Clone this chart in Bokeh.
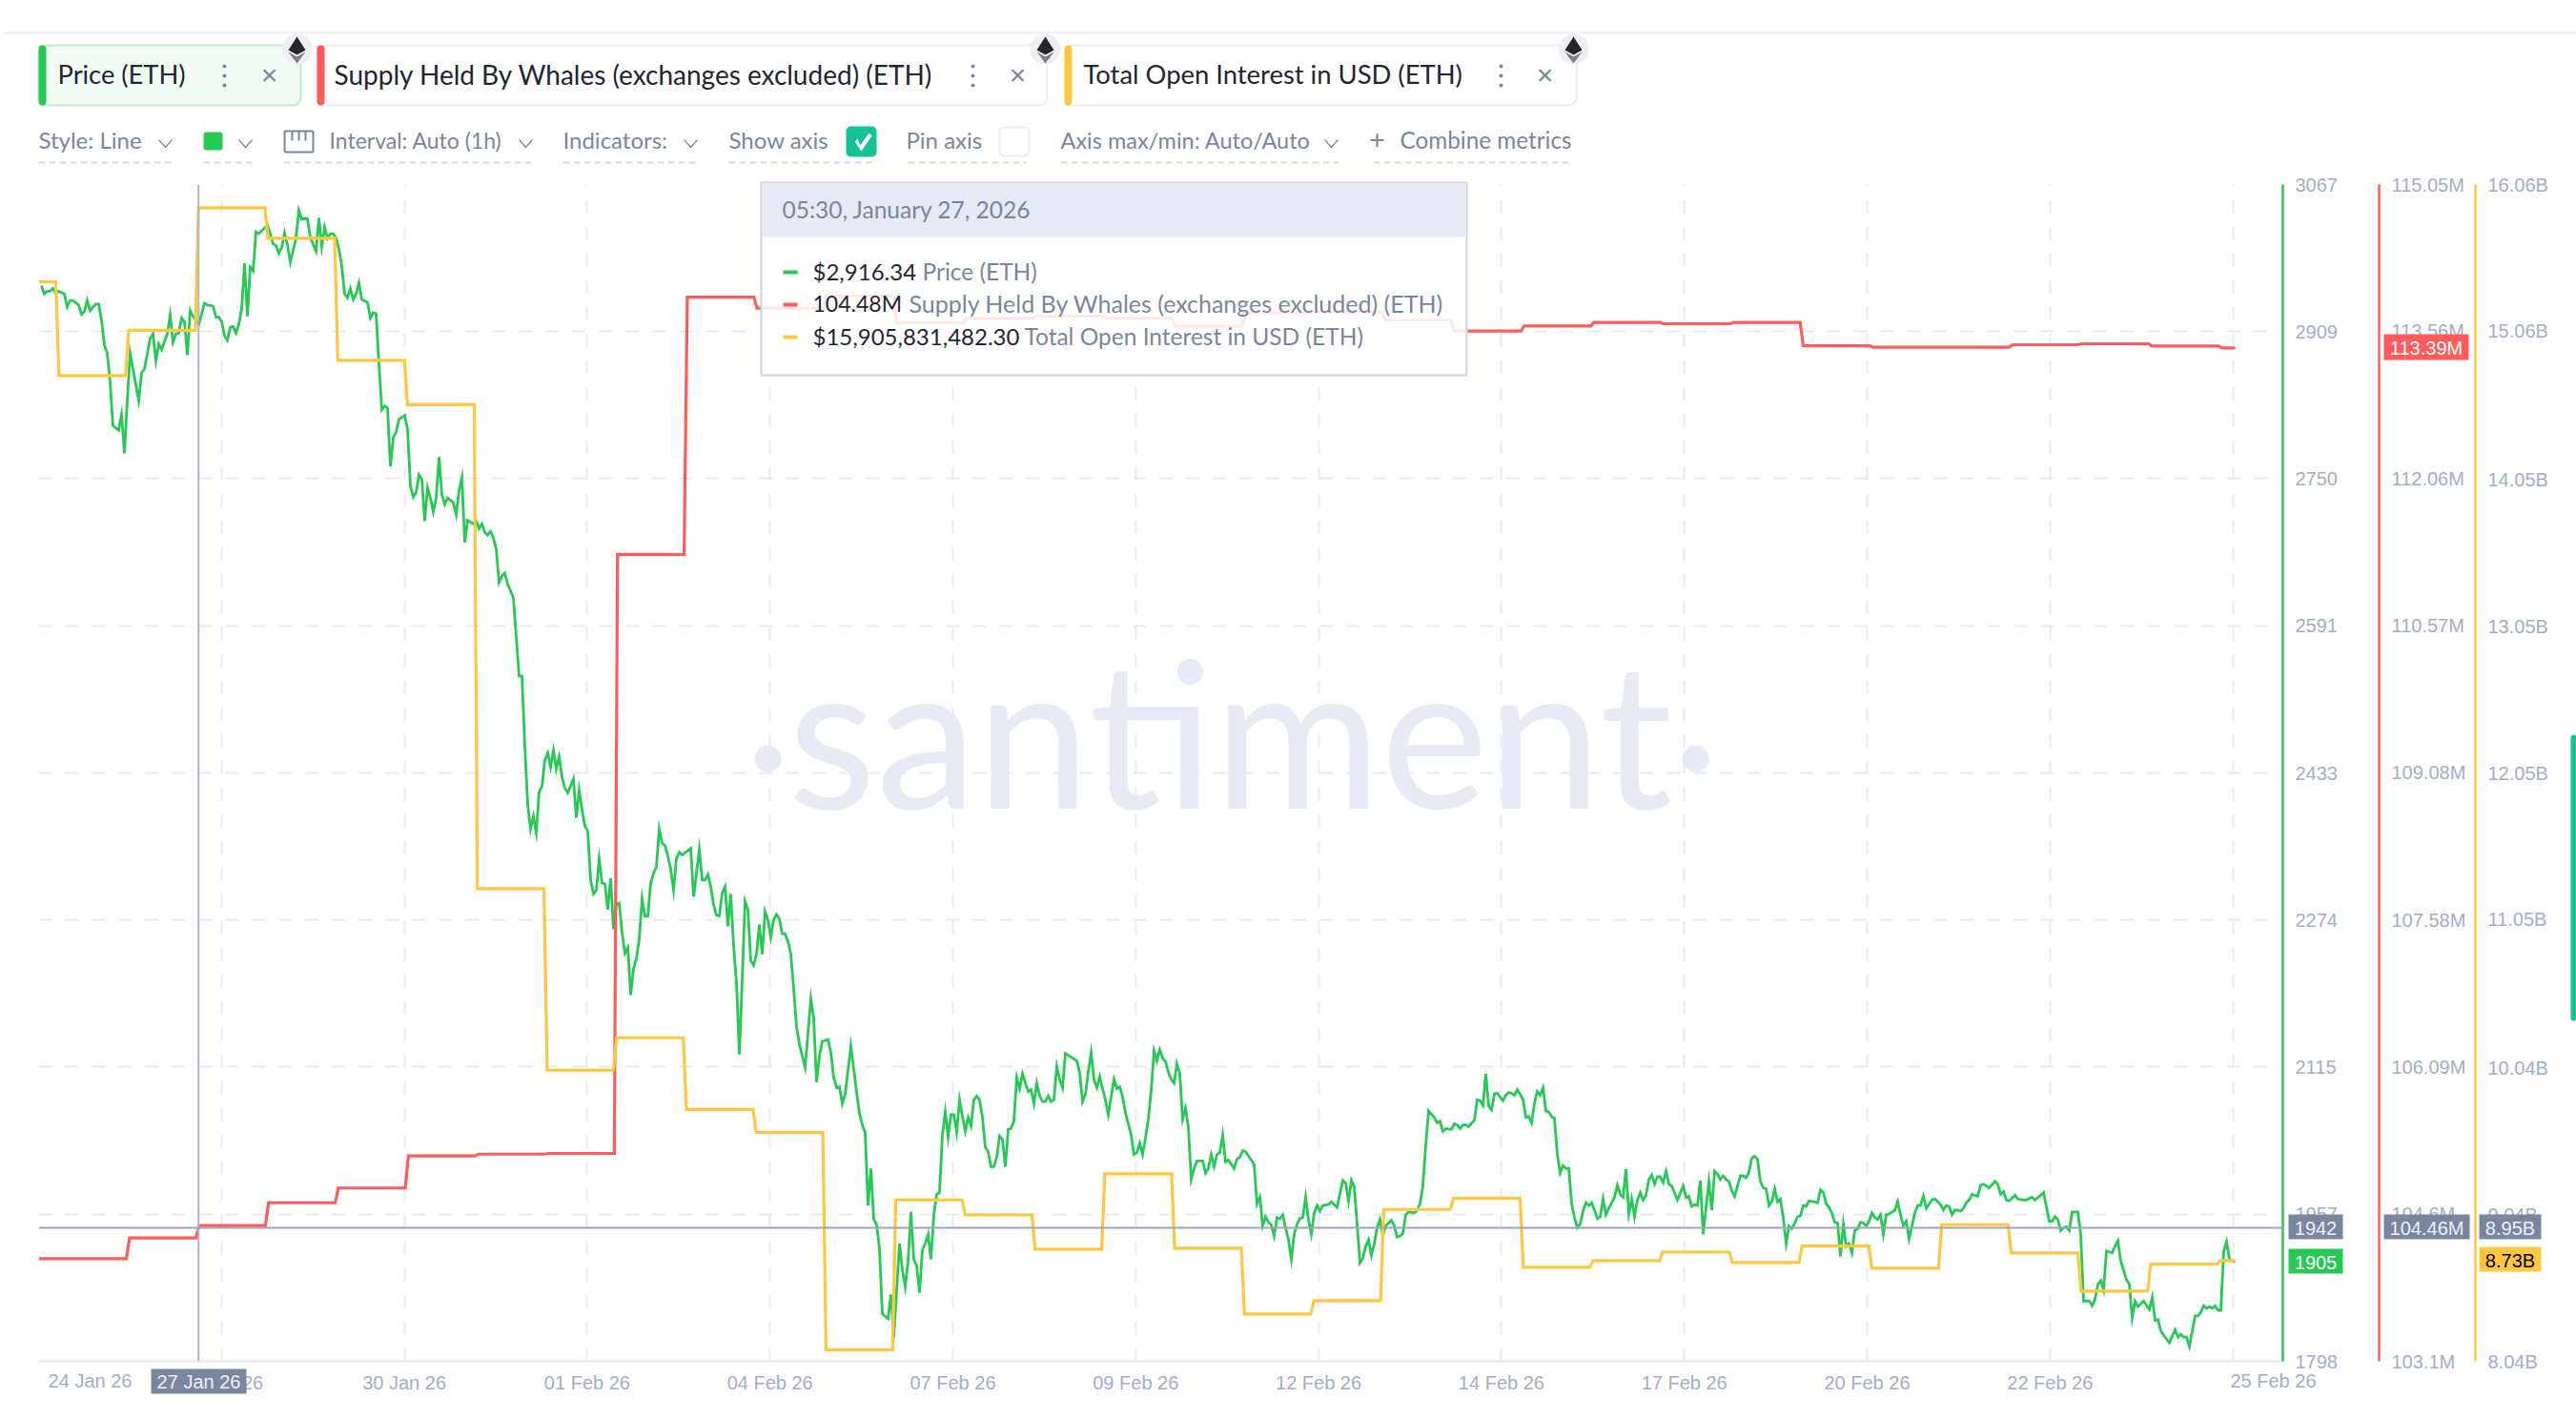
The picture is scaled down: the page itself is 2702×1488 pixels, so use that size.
from bokeh.plotting import figure
from bokeh.layouts import column
from bokeh.models import (Range1d, LinearAxis, FixedTicker, Label, BoxAnnotation, PolyAnnotation, Span)
from bokeh.embed import file_html
from bokeh.resources import INLINE

# ---------- data: (hour since start of window, USD) ----------
price_a = [(1,2958),(2,2949),(3,2952),(4,2952),(5,2955),(6,2950),(7,2952),(9,2949),(10,2935),(11,2942),(12,2942),(14,2937),(15,2927),(16,2930),(17,2942),(18,2931),(20,2938),(21,2938),(22,2921),(23,2894),(24,2885),(25,2854),(26,2807),(28,2802),(29,2819),(30,2777),(31,2834),(32,2885),(35,2834),(36,2864),(37,2868),(39,2901),(40,2906),(41,2877),(42,2895),(43,2889),(45,2906),(46,2926),(47,2897),(48,2906),(49,2907),(50,2923),(51,2919),(52,2883),(53,2931),(54,2925),(56,2916),(58,2939),(59,2937),(61,2936),(62,2924),(63,2924),(64,2919),(65,2904),(66,2899),(67,2913),(68,2914),(69,2907),(70,2916),(71,2933),(72,2982),(73,2925),(74,2978),(75,2974),(76,3016),(77,3014),(80,3023),(81,3014),(82,3003),(83,3001),(84,2993),(85,2999),(86,3015),(87,3002),(88,2983),(90,3009),(91,3039),(92,3030),(94,3030),(95,3010),(97,2995),(98,3031),(99,3000),(100,3021),(101,3009),(102,3014),(103,3014),(104,3009),(105,2997),(106,2979),(107,2949),(108,2945),(109,2955),(110,2943),(111,2949),(112,2961),(113,2943)]
price_b = [(115,2940),(116,2923),(117,2929),(118,2928),(119,2873),(120,2824),(121,2828),(122,2826),(123,2763),(124,2794),(125,2800),(126,2814),(128,2818),(129,2803),(130,2742),(131,2730),(132,2735),(133,2754),(134,2749),(135,2704),(136,2740),(137,2729),(138,2714),(139,2729),(140,2773),(141,2733),(142,2722),(143,2729),(145,2724),(146,2711),(147,2737),(148,2751),(149,2681),(150,2705),(152,2701),(153,2704),(154,2696),(155,2701),(156,2692),(157,2689),(158,2693),(159,2686),(160,2674),(161,2638),(162,2645),(163,2648),(164,2636),(165,2629),(166,2621),(168,2537),(169,2537),(170,2461),(171,2399)]
price_c = [(172,2372),(173,2386),(174,2368),(175,2412),(176,2418),(177,2446),(178,2454),(179,2439),(180,2457),(181,2437),(182,2450),(183,2428),(184,2416),(185,2411),(187,2426),(188,2384),(189,2414),(190,2393),(191,2375),(192,2370),(193,2317),(194,2302),(195,2306),(196,2340),(197,2314),(198,2313),(199,2285),(200,2319),(201,2264),(202,2291),(203,2292),(204,2260),(205,2238),(206,2244),(207,2193),(208,2221),(209,2232),(210,2253),(211,2297),(212,2278),(213,2278),(214,2314),(215,2324),(216,2331),(217,2372),(218,2357),(219,2354),(220,2343),(221,2329),(222,2306),(223,2340),(224,2347),(225,2344),(228,2351),(229,2299),(230,2324),(231,2350),(232,2317),(233,2317),(234,2323),(235,2310),(236,2290),(237,2279),(238,2278),(239,2303),(240,2310),(241,2267),(242,2302),(243,2246),(244,2207),(245,2129),(246,2209),(247,2294),(248,2285),(249,2230),(250,2225),(251,2237),(252,2269),(253,2237),(254,2283),(255,2274),(256,2255),(257,2274),(258,2280),(259,2275),(260,2259),(261,2259),(262,2251),(263,2237),(264,2200),(265,2159),(266,2140),(268,2115),(270,2189),(271,2168),(272,2099),(273,2127),(274,2143),(276,2145),(277,2131),(278,2104),(279,2093),(280,2094),(281,2076),(282,2086),(284,2138),(286,2088),(287,2065),(288,2053),(289,2044),(290,1966),(291,2006),(292,1951),(293,1945),(294,1920),(295,1849),(297,1844),(298,1870),(299,1823),(301,1925),(302,1897),(303,1878),(304,1906),(305,1959),(306,1908)]
price_d = [(307,1901),(308,1872),(309,1918),(310,1925),(311,1935),(312,1908),(313,1956),(314,1978),(315,1980),(316,2042),(317,2067),(318,2040),(319,2064),(320,2064),(321,2045),(322,2080),(323,2062),(324,2046),(325,2061),(326,2052),(327,2080),(328,2084),(329,2080),(330,2061),(331,2029),(332,2024),(333,2008),(334,2008),(335,2018),(336,2041),(337,2037),(338,2008),(339,2048),(340,2049),(341,2057),(342,2104),(343,2092),(344,2108),(345,2098),(346,2089),(347,2091),(348,2076),(349,2098),(350,2084),(351,2078),(352,2078),(353,2084),(354,2078),(355,2080),(356,2116),(357,2102),(358,2093),(359,2130),(361,2126),(363,2122),(364,2109),(365,2078),(366,2086),(367,2110),(368,2131),(369,2102),(370,2093),(371,2105),(372,2092),(373,2080),(374,2064),(376,2102),(377,2092),(378,2094),(379,2083),(380,2066),(382,2042),(383,2021),(384,2023),(385,2033),(386,2021),(387,2039),(388,2059),(389,2090),(390,2133),(391,2122),(392,2134),(393,2125),(394,2121),(395,2110),(396,2102),(397,2098),(398,2119),(399,2108),(400,2059),(401,2071),(402,2050),(403,1994),(404,2006),(405,2014),(407,2014),(408,2001),(409,2006),(410,2021),(411,2008),(412,2021),(413,2023),(414,2042),(415,2013),(416,2015),(418,2006),(419,2016),(420,2018),(421,2025),(422,2024),(424,2015),(425,2010),(426,1968),(427,1975),(428,1944),(429,1954),(430,1948),(431,1945),(432,1933),(433,1953),(434,1952),(435,1956),(436,1942),(437,1929),(438,1908),(439,1935),(440,1946),(441,1952),(442,1953),(443,1975),(444,1951),(445,1935),(446,1958),(447,1966),(448,1960),(449,1966),(451,1967),(452,1970),(453,1967),(454,1964)]
price_e = [(456,1993),(457,1990),(458,1971),(459,1993),(460,1986),(461,1946),(462,1904),(463,1909),(464,1922),(465,1929),(466,1912),(467,1925),(468,1942),(469,1951),(470,1934),(471,1944),(473,1950),(474,1944),(475,1932),(476,1933),(477,1936),(478,1956),(479,1959),(481,1958),(482,1961),(483,1968),(484,1987),(485,2031),(486,2068),(488,2061),(489,2055),(490,2057),(491,2046),(492,2049),(494,2048),(495,2054),(496,2053),(497,2049),(498,2053),(499,2053),(500,2051),(502,2058),(503,2080),(504,2079),(505,2074),(506,2108),(507,2073),(508,2069),(509,2086),(510,2087),(512,2079),(513,2085),(514,2088),(515,2087),(516,2085),(517,2091),(518,2086),(519,2080),(520,2061),(521,2062),(522,2055),(523,2076),(524,2089),(525,2085),(526,2093),(527,2068),(528,2067),(529,2062),(530,2060),(531,2021),(532,2001),(533,2009),(534,2006),(535,2006),(536,1968),(537,1953),(538,1942),(539,1946),(540,1960),(541,1969),(542,1966),(543,1969),(544,1961),(545,1952),(546,1954),(547,1973),(548,1956),(549,1963),(551,1975),(552,1988),(553,1978),(554,1975),(555,2005),(556,1957),(557,1973),(558,1954),(559,1972),(560,1980),(561,1972),(562,1977),(563,1994),(564,1999),(565,1989),(566,1997),(567,1997),(568,1991),(569,2003),(570,1989),(571,1987),(573,1972),(575,1987),(576,1975),(577,1976),(578,1965),(579,1967),(580,1966),(581,1993),(582,1935),(584,1992),(585,1961),(586,2003),(587,2000),(588,1994),(589,1998),(590,1994),(591,1992),(592,1982),(593,1976),(594,1987),(595,1998),(596,1998),(597,1996),(598,2002),(599,2017),(600,2019),(601,2016),(602,1992),(603,1985),(604,1984),(605,1966),(606,1970),(607,1984),(608,1970),(609,1973),(610,1953),(611,1925),(612,1944)]
price_f = [(613,1941),(614,1947),(615,1954),(616,1955),(617,1966),(618,1965),(619,1971),(621,1970),(622,1969),(623,1983),(624,1980),(625,1968),(626,1964),(627,1958),(628,1948),(629,1947),(630,1911),(631,1946),(632,1922),(633,1925),(634,1915),(635,1939),(636,1941),(637,1948),(638,1947),(639,1944),(640,1949),(641,1958),(642,1953),(643,1951),(644,1956),(645,1935),(646,1956),(647,1957),(649,1961),(650,1970),(651,1956),(652,1944),(653,1949),(654,1930),(655,1944),(656,1958),(657,1966),(658,1966),(659,1976),(660,1963),(662,1972),(663,1973),(664,1970),(665,1967),(666,1961),(667,1966),(668,1965),(669,1956),(670,1961),(671,1961),(672,1960),(673,1963),(674,1969),(675,1972),(676,1978),(678,1976),(679,1988),(680,1989),(682,1985),(684,1992),(685,1989),(686,1978),(687,1981),(688,1972),(689,1971),(691,1977),(692,1973),(694,1972),(695,1972),(697,1975),(698,1972),(700,1977),(701,1980),(703,1949),(704,1949),(705,1954),(706,1951),(707,1939),(708,1942),(709,1943),(710,1939),(711,1959),(713,1959),(714,1935),(715,1863),(717,1863),(718,1858),(719,1865),(720,1881),(721,1885),(722,1875),(723,1917),(725,1915),(726,1922),(727,1928),(728,1906),(730,1886),(731,1881),(732,1845),(733,1863),(734,1857),(736,1863),(738,1854),(739,1867),(740,1842),(741,1843),(742,1831),(743,1826),(745,1818),(747,1832),(748,1824),(749,1827),(750,1824),(751,1824),(752,1814),(754,1847),(755,1847),(756,1851),(757,1858),(758,1855),(759,1857),(760,1855),(761,1858),(762,1853),(763,1853),(764,1917),(765,1927),(766,1908),(768,1905)]

# daily series: hour at which each new daily value starts to take effect, and the values
oi_change_hours = [6,30.4,54.8,79.1,103.5,127.9,152.3,176.7,201,225.4,249.8,274.2,298.6,322.9,347.3,371.7,396.1,420.5,444.8,469.2,493.6,518,542.4,566.7,591.1,615.5,639.9,664.3,688.6,713,737.4,761.8]
oi_billion = [15.397,14.758,15.066,15.902,15.694,14.862,14.559,11.261,10.024,10.245,9.756,9.600,8.119,9.140,9.039,8.805,9.318,8.811,8.363,8.454,9.075,9.151,8.681,8.727,8.785,8.714,8.826,8.675,8.971,8.779,8.519,8.703,8.727]
whale_change_hours = [30.7,55,79.3,103.7,128.2,152.6,177,201.3,225.7,250.1,274.5,298.9,323.3,347.7,372,396.3,420.8,445.2,469.6,493.9,518.3,542.7,567,591.5,615.9,640.3,664.7,689,713,737.8,762.2]
whale_million = [104.143,104.352,104.478,104.710,104.860,105.185,105.204,105.211,111.293,113.907,113.794,113.917,113.646,113.691,113.714,113.694,113.610,113.743,113.755,113.675,113.562,113.614,113.649,113.636,113.649,113.413,113.398,113.398,113.423,113.433,113.410,113.391]
end_hour = 768

x_tick_hours = [0,63.93,127.87,191.8,255.73,319.67,383.6,447.53,511.47,575.4,639.33,703.27,767.2]
x_tick_labels = ["","27 Jan 26","30 Jan 26","01 Feb 26","04 Feb 26","07 Feb 26","09 Feb 26","12 Feb 26","14 Feb 26","17 Feb 26","20 Feb 26","22 Feb 26",""]
price_ticks = [1798,1956.6,2115.3,2273.9,2432.5,2591.1,2749.8,2908.4,3067]
price_tick_labels = ["1798","1957","2115","2274","2433","2591","2750","2909","3067"]
whale_ticks = [103.1,104.6,106.09,107.58,109.08,110.57,112.06,113.56,115.05]
whale_tick_labels = ["103.1M","104.6M","106.09M","107.58M","109.08M","110.57M","112.06M","113.56M","115.05M"]
oi_ticks = [8.04,9.04,10.04,11.05,12.05,13.05,14.05,15.06,16.06]
oi_tick_labels = ["8.04B","9.04B","10.04B","11.05B","12.05B","13.05B","14.05B","15.06B","16.06B"]
crosshair_hour = 55.9
crosshair_price = 1942

GREEN, RED, YELLOW = "#26c953", "#ff5b5b", "#ffc740"
GRID, AXIS_TEXT, UI_TEXT, DARK = "#e7eaf4", "#a4acc9", "#7a859e", "#1f2533"
TAG = "#7a869f"
UI_FONT, NUM_FONT = "Lato", "Liberation Sans"

def steps(change_hours, values, end):
    xs, ys = [0], [values[0]]
    for t, prev, nxt in zip(change_hours, values[:-1], values[1:]):
        xs += [t, t + 1.1]
        ys += [prev, nxt]
    xs.append(end); ys.append(values[-1])
    return xs, ys

p = figure(width=2702, height=1488, output_backend="svg", toolbar_location=None,
           x_range=Range1d(0, 784.67), y_range=Range1d(1798, 3067),
           y_axis_location="right", min_border_left=40, min_border_top=193,
           min_border_right=308, min_border_bottom=61, frame_align=False)
p.outline_line_color = None
p.background_fill_color = "white"
p.border_fill_color = "white"
p.extra_y_ranges = {"whale": Range1d(103.1, 115.05), "oi": Range1d(8.04, 16.06)}

# transparent sheet over the chart, for the page furniture round the plot frame
q = figure(width=2702, height=1488, output_backend="svg", toolbar_location=None,
           x_axis_type=None, y_axis_type=None, x_range=Range1d(0, 2702), y_range=Range1d(1488, 0),
           min_border=0, min_border_left=0, min_border_right=0, min_border_top=0, min_border_bottom=0,
           frame_align=False)
q.outline_line_color = None
q.background_fill_color = None
q.border_fill_color = None
q.grid.visible = False
q.margin = (-1488, 0, 0, 0)

def style_axis(ax, color, pad):
    ax.axis_line_color = color
    ax.axis_line_width = 2.5
    ax.major_tick_line_color = None
    ax.minor_tick_line_color = None
    ax.major_label_text_color = AXIS_TEXT
    ax.major_label_text_font = NUM_FONT
    ax.major_label_text_font_size = "20px"
    ax.major_label_standoff = 7
    ax.axis_label = " "
    ax.axis_label_text_alpha = 0
    ax.axis_label_text_font_size = "1px"
    ax.axis_label_standoff = pad

pa = p.yaxis[0]
pa.ticker = FixedTicker(ticks=price_ticks)
pa.major_label_overrides = dict(zip(price_ticks, price_tick_labels))
style_axis(pa, GREEN, 36)
wa = LinearAxis(y_range_name="whale", ticker=FixedTicker(ticks=whale_ticks),
                major_label_overrides=dict(zip(whale_ticks, whale_tick_labels)))
style_axis(wa, RED, 3)
oa = LinearAxis(y_range_name="oi", ticker=FixedTicker(ticks=oi_ticks),
                major_label_overrides=dict(zip(oi_ticks, oi_tick_labels)))
style_axis(oa, YELLOW, 3)
p.add_layout(wa, "right")
p.add_layout(oa, "right")

xa = p.xaxis[0]
xa.ticker = FixedTicker(ticks=x_tick_hours)
xa.major_label_overrides = dict(zip(x_tick_hours, x_tick_labels))
xa.axis_line_color = GRID
xa.axis_line_width = 2.5
xa.major_tick_line_color = None
xa.minor_tick_line_color = None
xa.major_label_text_color = AXIS_TEXT
xa.major_label_text_font = NUM_FONT
xa.major_label_text_font_size = "20px"
xa.major_label_standoff = 5

for g in (p.xgrid[0], p.ygrid[0]):
    g.grid_line_color = GRID
    g.grid_line_width = 2
    g.grid_line_dash = "14 14"

# ----- helpers working in reference pixels -----
def box(x0, y0, x1, y1, fill=None, line=None, lw=0, r=0, alpha=1.0, level="overlay", fig=None):
    (fig or q).add_layout(BoxAnnotation(left=x0, right=x1, top=y0, bottom=y1,
                 left_units="canvas", right_units="canvas", top_units="canvas", bottom_units="canvas",
                 fill_color=fill, fill_alpha=alpha if fill else 0,
                 line_color=line, line_width=lw, line_alpha=1 if line else 0,
                 border_radius=r, level=level, editable=False))

def txt(x, y, s, color=UI_TEXT, size=24, font=UI_FONT, align="left", level="overlay", fig=None):
    (fig or q).add_layout(Label(x=x, y=y, x_units="canvas", y_units="canvas", text=s,
                 text_color=color, text_font=font, text_font_size=f"{size}px",
                 text_align=align, text_baseline="middle", level=level))

def poly(pts, fill):
    q.add_layout(PolyAnnotation(xs=[a for a, _ in pts], ys=[b for _, b in pts],
                 xs_units="canvas", ys_units="canvas", fill_color=fill, fill_alpha=1, line_alpha=0, level="overlay"))

def chevron(x, y=149, c=UI_TEXT):
    poly([(x-7,y-4),(x,y+4),(x+7,y-4),(x+7,y-2),(x,y+6),(x-7,y-2)], c)

def dashes(x0, x1, y=170):
    x = x0
    while x < x1:
        box(x, y-1, min(x+7, x1), y+1, fill="#d6daec")
        x += 11

def eth(x, y=51):
    box(x-16, y-16, x+16, y+16, fill="#edeff4", r=16)
    poly([(x,y-13),(x+9,y+1),(x,y+6),(x-9,y+1)], "#24262b")
    poly([(x-9,y+3),(x,y+8),(x+9,y+3),(x,y+15)], "#7d7f85")

def kebab_close(xd, xx, y=79):
    for dy in (-10, 0, 10):
        box(xd-2, y+dy-2, xd+2, y+dy+2, fill=UI_TEXT, r=2)
    txt(xx, y-1, "×", UI_TEXT, 30, NUM_FONT, "center")

# ----- watermark under the lines -----
txt(1290, 765, "santiment", "#e7eaf4", 213, "Lato", "center", level="underlay", fig=p)
box(791, 781, 819, 809, fill="#e7eaf4", r=14, level="underlay", fig=p)
box(1764, 781, 1792, 809, fill="#e7eaf4", r=14, level="underlay", fig=p)

# ----- series -----
price_pts = price_a + price_b + price_c + price_d + price_e + price_f
p.line([a for a, _ in price_pts], [b for _, b in price_pts], line_color=GREEN, line_width=2.8, line_join="miter")
wx, wy = steps(whale_change_hours, whale_million, end_hour)
p.line(wx, wy, y_range_name="whale", line_color=RED, line_width=3.2, line_join="miter")
ox, oy = steps(oi_change_hours, oi_billion, end_hour)
p.line(ox, oy, y_range_name="oi", line_color=YELLOW, line_width=3.2, line_join="miter")

p.add_layout(Span(location=crosshair_hour, dimension="height", line_color="#aeb6cf", line_width=2))
p.add_layout(Span(location=crosshair_price, dimension="width", line_color="#9aa3bd", line_width=2))

# ----- x labels clamped to the chart edges, crosshair date -----
txt(94, 1447, "24 Jan 26", AXIS_TEXT, 20, NUM_FONT, "center")
txt(2384, 1447, "25 Feb 26", AXIS_TEXT, 20, NUM_FONT, "center")
box(158, 1435, 258, 1461, fill=TAG)
txt(208, 1448, "27 Jan 26", "#eef0f7", 20, NUM_FONT, "center")

# ----- value tags -----
for x0, x1, y0, y1, fill, tc, s in [
    (2400, 2457, 1273, 1299, TAG, "#eef0f7", "1942"),
    (2400, 2457, 1309, 1335, GREEN, "white", "1905"),
    (2500, 2590, 1273, 1299, TAG, "#eef0f7", "104.46M"),
    (2600, 2665, 1273, 1299, TAG, "#eef0f7", "8.95B"),
    (2600, 2665, 1307, 1333, YELLOW, "black", "8.73B"),
    (2500, 2589, 350, 377, RED, "white", "113.39M")]:
    box(x0, y0, x1, y1, fill=fill)
    txt((x0+x1)/2, (y0+y1)/2+1, s, tc, 20, NUM_FONT, "center")

# ----- tooltip -----
box(798, 191, 1538, 393, fill="white", alpha=0.86, line="#cfd3e6", lw=2)
box(799, 192, 1537, 248, fill=GRID)
txt(820, 219, "05:30, January 27, 2026", UI_TEXT, 24.5)
for y, c, a, asz, ax_, b, sz in [
    (285, GREEN, "$2,916.34", 24, 967, "Price (ETH)", 24.5),
    (319, RED, "104.48M", 23, 953, "Supply Held By Whales (exchanges excluded) (ETH)", 25),
    (353, YELLOW, "$15,905,831,482.30", 24, 1074, "Total Open Interest in USD (ETH)", 24.5)]:
    box(821, y-2, 836, y+2, fill=c)
    txt(852, y-1.5, a, DARK, asz)
    txt(ax_, y-1.5, b, UI_TEXT, sz)

# ----- metric chips -----
box(4, 33, 2702, 35, fill="#eceef7")
box(40, 47, 315, 110, fill="#f2faf4", line="#bdeecb", lw=2, r=8)
box(40, 47, 48, 110, fill=GREEN, r=4)
txt(60, 77, "Price (ETH)", DARK, 27.3)
kebab_close(235, 282)
eth(311)
box(332, 47, 1098, 110, fill="white", line="#eceef7", lw=2, r=8)
box(332, 47, 340, 110, fill=RED, r=4)
txt(350, 77, "Supply Held By Whales (exchanges excluded) (ETH)", DARK, 28)
kebab_close(1020, 1067)
eth(1096)
box(1116, 47, 1653, 110, fill="white", line="#eceef7", lw=2, r=8)
box(1116, 47, 1124, 110, fill=YELLOW, r=4)
txt(1136, 77, "Total Open Interest in USD (ETH)", DARK, 27.4)
kebab_close(1574, 1620)
eth(1650)

# ----- settings row -----
txt(40, 146, "Style: Line")
chevron(173); dashes(40, 181)
box(213, 138, 233, 157, fill=GREEN, r=3)
chevron(257); dashes(213, 265)
box(298, 137, 328, 159, line=UI_TEXT, lw=2, r=1)
for tx in (306, 313, 320):
    box(tx-1, 137, tx+1, 147, fill=UI_TEXT)
txt(345, 146, "Interval: Auto (1h)", size=23)
chevron(551); dashes(297, 558)
txt(590, 146, "Indicators:")
chevron(724); dashes(590, 732)
txt(764, 146, "Show axis")
box(887, 132, 919, 164, fill="#14c393", r=5)
poly([(896,148),(899,145),(902,152),(911,139),(914,142),(903,158)], "white")
dashes(764, 917)
txt(950, 146, "Pin axis")
box(1048, 133, 1079, 163, fill="white", line="#e8ebf5", lw=2, r=5)
dashes(952, 1076)
txt(1112, 146, "Axis max/min: Auto/Auto", size=23.5)
chevron(1396); dashes(1112, 1404)
txt(1444, 146, "+", UI_TEXT, 28, NUM_FONT, "center")
txt(1468, 146, "Combine metrics", size=24.3)
dashes(1440, 1647)

box(2696, 770, 2702, 1070, fill="#14c393", r=3)

root = column(p, q, spacing=0, margin=0)
open("out.html", "w").write(file_html(root, INLINE))
